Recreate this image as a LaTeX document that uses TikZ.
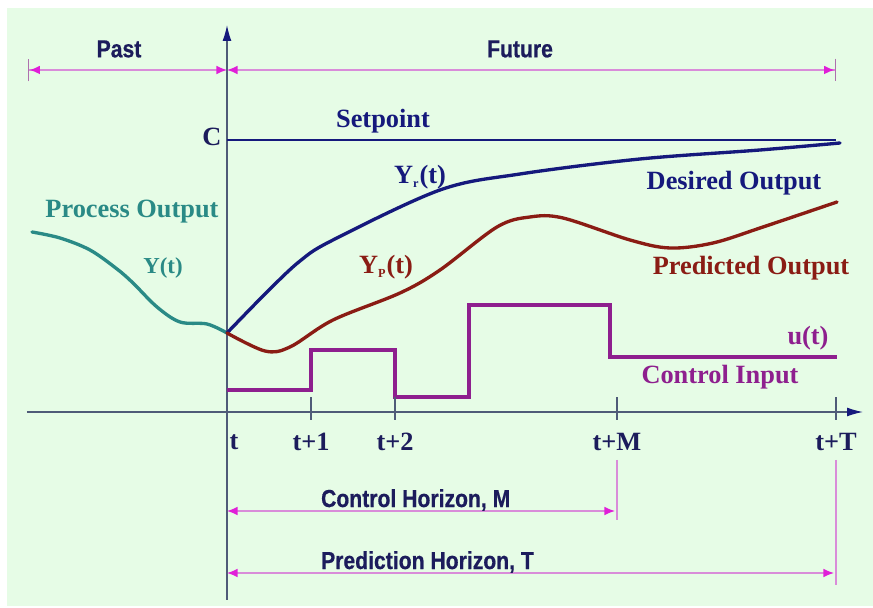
\documentclass[tikz,border=0pt]{standalone}
\usepackage{fontspec}
\setmainfont{Liberation Serif}
\newfontfamily\hzsans[FakeStretch=0.86,FakeBold=0.6]{Liberation Sans}
\usetikzlibrary{arrows.meta,positioning}
\definecolor{bggreen}{HTML}{E6FCE6}
\definecolor{axisgray}{HTML}{4F5B78}
\definecolor{navy}{HTML}{15197C}
\definecolor{inktext}{HTML}{1C1C5C}
\definecolor{procteal}{HTML}{2A8A86}
\definecolor{predred}{HTML}{8A1C14}
\definecolor{ctrlpurple}{HTML}{8E1F8E}
\definecolor{spanpink}{HTML}{D98CD9}
\definecolor{tipmagenta}{HTML}{E01FD8}
\newcommand{\tinysub}[1]{\textsubscript{\fontsize{7}{7}\selectfont #1}}

\begin{document}
\begin{tikzpicture}[
  hz/.tip={Latex[length=6pt,width=5pt,color=tipmagenta]},
  stopbar/.tip={Bar[width=13pt,line width=0.8pt,color=spanpink!80!black]},
  axis/.style={axisgray, line width=0.7pt},
  span/.style={spanpink, line width=0.9pt},
  curve/.style={line width=1.9pt, line cap=round, line join=round},
  serlbl/.style={font=\fontsize{15}{18}\selectfont\bfseries, inner sep=1pt},
  sanlbl/.style={font=\hzsans\fontsize{14}{16}\selectfont\bfseries, text=inktext, inner sep=1pt},
  ticklbl/.style={font=\fontsize{15}{18}\selectfont\bfseries, text=inktext, inner sep=1pt}
]
  \useasboundingbox (-4.54,-3.92) rectangle (12.92,8.24);
  \fill[bggreen] (-4.40,-3.88) rectangle (12.92,8.08);

  \coordinate (xl) at (-4.0,0);
  \coordinate (xr) at (12.72,0);
  \coordinate (yb) at (0,-3.76);
  \coordinate (yt) at (0,7.74);
  \draw[axis, -{Latex[length=9pt,width=5pt,color=navy]}] (xl) -- (xr);
  \draw[axis, -{Latex[length=9pt,width=5pt,color=navy]}] (yb) -- (yt);

  % past / future
  \coordinate (pastend) at (-3.98,6.84);
  \coordinate (nowtop) at (0,6.84);
  \coordinate (futend) at (12.18,6.84);
  \draw[span, {stopbar[]hz[]}-{hz[]}] (pastend) -- (nowtop);
  \draw[span, {hz[]}-{hz[]stopbar[]}] (nowtop) -- (futend);
  \node[sanlbl] (past) at (-2.16,7.26) {Past};
  \node[sanlbl] (future) at (5.86,7.26) {Future};

  % setpoint
  \coordinate (spl) at (0,5.44);
  \coordinate (spr) at (12.18,5.44);
  \draw[navy, line width=1.3pt] (spl) -- (spr);
  \node[serlbl, text=inktext] (c) at (-0.3,5.5) {C};
  \node[serlbl, text=navy] (setpoint) at (3.12,5.82) {Setpoint};

  % outputs
  \coordinate (now) at (0,1.58);
  \draw[curve, procteal] plot[smooth, tension=0.55] coordinates {(-3.9,3.6) (-3.34,3.48) (-2.74,3.24) (-2.2,2.86) (-1.88,2.58) (-1.4,2.1) (-0.94,1.8) (-0.4,1.76) (now)};
  \draw[curve, navy] plot[smooth, tension=0.55] coordinates {(now) (0.8,2.4) (1.46,3.02) (2.12,3.44) (4.26,4.44) (5.86,4.76) (8.26,5.06) (10.66,5.24) (12.26,5.38)};
  \draw[curve, predred] plot[smooth, tension=0.55] coordinates {(now) (0.76,1.22) (1.26,1.3) (2.12,1.84) (3.46,2.38) (4.26,2.84) (5.4,3.7) (6.06,3.9) (6.72,3.88) (8.06,3.44) (8.86,3.28) (9.72,3.38) (10.72,3.7) (12.2,4.2)};

  \node[serlbl, text=procteal] (procout) at (-1.9,4.0) {Process Output};
  \node[serlbl, text=procteal, font=\fontsize{13}{15}\selectfont\bfseries] (ylab) at (-1.28,2.88) {Y(t)};
  \node[serlbl, text=navy] (yr) at (3.86,4.7) {Y\tinysub{r}(t)};
  \node[serlbl, text=navy] (desout) at (10.14,4.58) {Desired Output};
  \node[serlbl, text=predred] (yp) at (3.18,2.9) {Y\tinysub{P}(t)};
  \node[serlbl, text=predred] (predout) at (10.48,2.88) {Predicted Output};

  % control input
  \draw[curve, ctrlpurple, line width=2.1pt, line cap=butt, line join=miter] (0,0.44) -| (1.68,1.24) -| (3.36,0.30) -| (4.84,2.14) -| (7.66,1.10) -- (12.2,1.10);
  \node[serlbl, text=ctrlpurple] (ut) at (11.62,1.48) {u(t)};
  \node[serlbl, text=ctrlpurple] (ctrlin) at (9.86,0.7) {Control Input};

  % time ticks
  \node[ticklbl] (t0) at (0.14,-0.6) {t};
  \foreach \x/\lab/\nm in {1.68/t+1/t1, 3.36/t+2/t2, 7.8/t+M/tM, 12.18/t+T/tT}{
    \draw[axis] (\x,-0.16) -- (\x,0.3);
    \node[ticklbl] (\nm) at (\x,-0.6) {\lab};
  }

  % horizons
  \coordinate (mtop) at (7.8,-0.96);
  \coordinate (mbot) at (7.8,-2.16);
  \coordinate (ttop) at (12.18,-0.96);
  \coordinate (tbot) at (12.18,-3.46);
  \draw[span, line width=0.7pt] (mtop) -- (mbot);
  \draw[span, line width=0.7pt] (ttop) -- (tbot);
  \coordinate (chl) at (0,-1.98);
  \coordinate (chr) at (7.76,-1.98);
  \coordinate (phl) at (0,-3.22);
  \coordinate (phr) at (12.14,-3.22);
  \draw[span, {hz[]}-{hz[]}] (chl) -- (chr);
  \draw[span, {hz[]}-{hz[]}] (phl) -- (phr);
  \node[sanlbl, anchor=west] (ctrlhz) at (1.84,-1.76) {Control Horizon, M};
  \node[sanlbl, anchor=west] (predhz) at (1.84,-3.0) {Prediction Horizon, T};
\end{tikzpicture}
\end{document}
